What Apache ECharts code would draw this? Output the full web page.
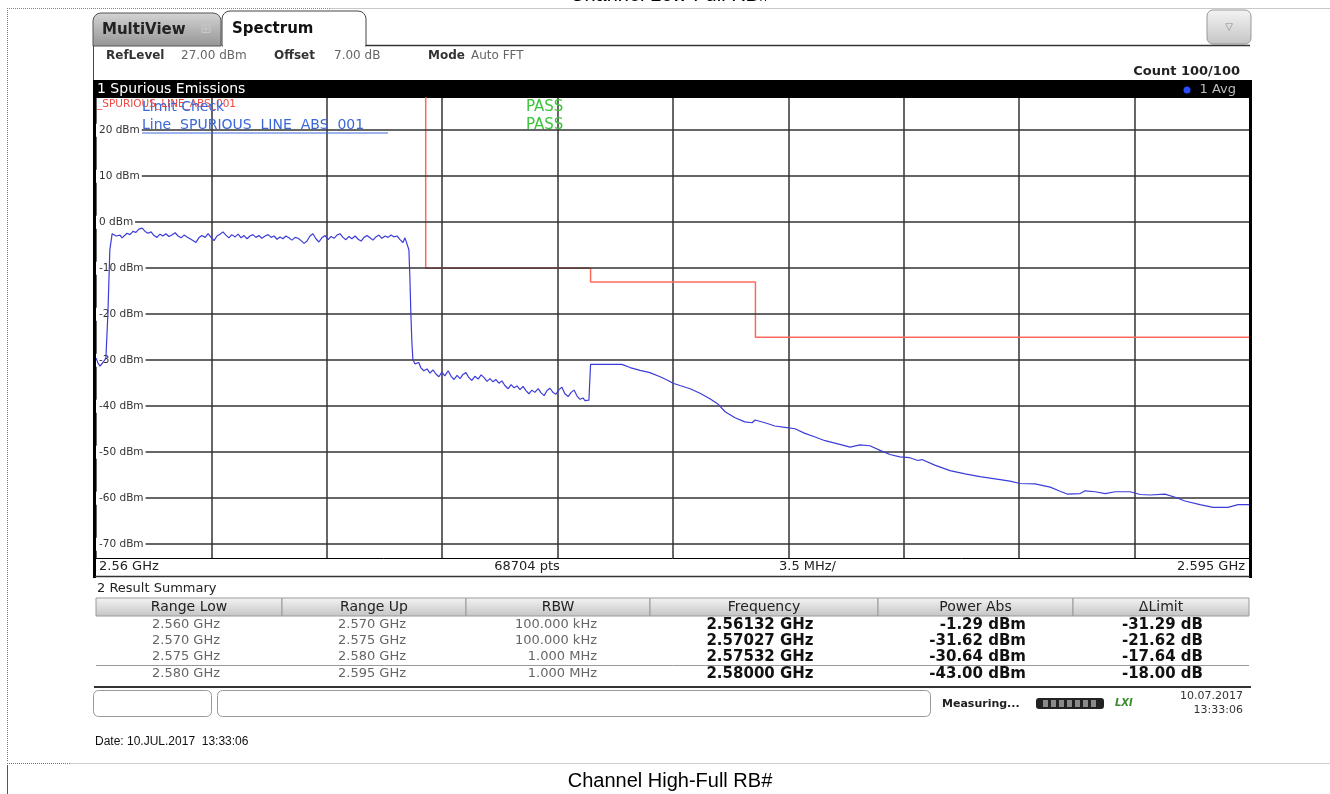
<!DOCTYPE html>
<html>
<head>
<meta charset="utf-8">
<script src="https://cdn.jsdelivr.net/npm/echarts/dist/echarts.min.js"></script>
<style>
  html, body { margin: 0; padding: 0; background: #fff; }
  #main { width: 1330px; height: 794px; }
</style>
</head>
<body>
<div id="main"></div>
<script>
var traceFreq = [
  0.00, 0.06, 0.12, 0.21, 0.30, 0.36, 0.42, 0.49, 0.55, 0.61, 0.67, 0.73,
  0.79, 0.85, 0.94, 1.03, 1.12, 1.21, 1.30, 1.40, 1.49, 1.58, 1.67, 1.76,
  1.85, 1.94, 2.03, 2.12, 2.21, 2.30, 2.40, 2.49, 2.58, 2.67, 2.76, 2.85,
  2.94, 3.03, 3.12, 3.21, 3.31, 3.40, 3.49, 3.58, 3.67, 3.76, 3.85, 3.94,
  4.03, 4.12, 4.22, 4.31, 4.40, 4.49, 4.58, 4.67, 4.76, 4.85, 4.94, 5.03,
  5.13, 5.22, 5.31, 5.40, 5.49, 5.58, 5.67, 5.76, 5.85, 5.94, 6.04, 6.13,
  6.22, 6.31, 6.40, 6.49, 6.58, 6.67, 6.76, 6.85, 6.95, 7.04, 7.13, 7.22,
  7.31, 7.40, 7.49, 7.58, 7.67, 7.76, 7.86, 7.95, 8.04, 8.13, 8.22, 8.31,
  8.40, 8.49, 8.58, 8.67, 8.77, 8.86, 8.95, 9.04, 9.13, 9.22, 9.31, 9.37,
  9.43, 9.49, 9.52, 9.55, 9.58, 9.61, 9.67, 9.73, 9.79, 9.85, 9.94, 10.04,
  10.13, 10.22, 10.31, 10.40, 10.49, 10.58, 10.68, 10.77, 10.86, 10.95, 11.04, 11.13,
  11.22, 11.31, 11.40, 11.49, 11.59, 11.68, 11.77, 11.86, 11.95, 12.04, 12.13, 12.22,
  12.31, 12.40, 12.50, 12.59, 12.68, 12.77, 12.86, 12.95, 13.04, 13.13, 13.22, 13.31,
  13.41, 13.50, 13.59, 13.68, 13.77, 13.86, 13.95, 14.04, 14.13, 14.22, 14.32, 14.41,
  14.50, 14.59, 14.68, 14.77, 14.83, 14.89, 14.95, 15.00, 15.00, 15.95, 16.20, 16.50,
  16.80, 17.11, 17.35, 17.50, 17.71, 18.02, 18.32, 18.62, 18.86, 19.08, 19.38, 19.68,
  19.90, 19.99, 20.29, 20.59, 20.90, 21.20, 21.50, 21.81, 22.11, 22.56, 22.87, 23.17,
  23.47, 23.78, 24.08, 24.38, 24.68, 24.93, 25.05, 25.44, 25.90, 26.36, 26.81, 27.27,
  27.72, 28.03, 28.48, 28.94, 29.24, 29.45, 29.85, 30.00, 30.30, 30.61, 30.91, 31.36,
  31.67, 31.97, 32.42, 32.73, 33.03, 33.48, 33.88, 34.33, 34.64, 35.00
];
var traceLevel = [
  -29.5, -30.6, -31.3, -30.5, -29.6, -20.0, -6.0, -2.5, -2.2, -3.0, -3.3, -2.8,
  -3.4, -3.0, -2.4, -2.7, -2.0, -2.2, -1.5, -1.3, -2.0, -2.4, -2.1, -2.9,
  -3.3, -2.6, -3.0, -2.5, -3.1, -2.8, -2.3, -3.0, -3.4, -2.8, -3.2, -3.6,
  -4.0, -4.4, -3.4, -2.9, -3.3, -2.5, -3.3, -4.0, -3.0, -2.6, -2.1, -2.8,
  -3.4, -2.7, -3.2, -2.6, -3.4, -2.9, -3.6, -3.0, -2.7, -3.3, -2.9, -3.5,
  -3.0, -2.7, -3.3, -3.0, -3.7, -3.2, -3.6, -3.0, -3.4, -3.9, -3.3, -3.5,
  -4.0, -4.6, -4.1, -3.0, -2.5, -3.6, -4.3, -3.4, -2.9, -3.8, -3.1, -3.5,
  -2.8, -2.5, -3.3, -3.8, -3.1, -3.6, -3.0, -3.7, -4.1, -3.3, -2.9, -3.4,
  -3.9, -3.2, -2.8, -3.5, -3.0, -3.3, -2.8, -3.2, -3.0, -3.8, -4.4, -3.4,
  -3.0, -6.0, -12.0, -20.0, -26.0, -29.8, -30.8, -31.2, -30.5, -31.6, -32.3, -31.9,
  -32.8, -32.1, -33.0, -33.6, -32.6, -33.4, -32.3, -33.5, -34.2, -33.3, -34.0, -33.1,
  -32.7, -33.8, -34.4, -33.5, -34.1, -33.2, -33.8, -34.6, -34.0, -34.7, -34.2, -35.0,
  -34.5, -35.5, -36.2, -35.3, -36.0, -35.6, -36.4, -35.7, -36.6, -37.3, -36.5, -37.0,
  -36.2, -37.1, -37.7, -36.6, -36.1, -37.0, -37.4, -36.4, -35.9, -37.3, -37.9, -37.0,
  -36.5, -37.8, -38.5, -38.2, -38.8, -38.4, -38.7, -38.6, -30.9, -30.9, -31.6, -32.2,
  -32.7, -33.6, -34.4, -35.0, -35.5, -36.2, -37.2, -38.4, -39.5, -41.2, -42.5, -43.4,
  -43.6, -43.0, -43.6, -44.3, -44.6, -44.9, -45.9, -46.7, -47.5, -48.3, -48.9, -48.4,
  -48.6, -49.6, -50.5, -51.0, -51.2, -51.8, -51.6, -52.8, -54.0, -54.7, -55.3, -55.8,
  -56.3, -56.8, -56.9, -57.6, -58.5, -59.1, -59.0, -58.4, -58.6, -59.0, -58.6, -58.6,
  -59.2, -59.3, -59.1, -59.8, -60.6, -61.4, -62.0, -62.0, -61.4, -61.4
];

// limit line SPURIOUS_LINE_ABS_001
var limitFreq = [10, 10, 15, 15, 20, 20, 35];
var limitLevel = [30, -10, -10, -13, -13, -25, -25];

var yTicks = [-70, -60, -50, -40, -30, -20, -10, 0, 10, 20];

// result summary table
var tableHead = ['Range Low', 'Range Up', 'RBW', 'Frequency', 'Power Abs', '\u0394Limit'];
var rangeLow = ['2.560 GHz', '2.570 GHz', '2.575 GHz', '2.580 GHz'];
var rangeUp = ['2.570 GHz', '2.575 GHz', '2.580 GHz', '2.595 GHz'];
var rbw = ['100.000 kHz', '100.000 kHz', '1.000 MHz', '1.000 MHz'];
var peakFreq = ['2.56132 GHz', '2.57027 GHz', '2.57532 GHz', '2.58000 GHz'];
var powerAbs = ['-1.29 dBm', '-31.62 dBm', '-30.64 dBm', '-43.00 dBm'];
var deltaLimit = ['-31.29 dB', '-21.62 dB', '-17.64 dB', '-18.00 dB'];

var UI = 'DejaVu Sans, Verdana, sans-serif';

function zip(a, b) {
  var res = [];
  for (var i = 0; i < a.length; i++) res.push([a[i], b[i]]);
  return res;
}

function txt(x, y, s, o) {
  o = o || {};
  return {
    type: 'text', x: x, y: y, z: o.z || 50,
    style: {
      text: s, fill: o.color || '#222', font: o.font || ('12px ' + UI),
      align: o.align || 'left', verticalAlign: o.va || 'middle'
    }
  };
}
function rect(x, y, w, h, o) {
  o = o || {};
  return {
    type: 'rect', z: o.z || 1,
    shape: { x: x, y: y, width: w, height: h, r: o.r || 0 },
    style: { fill: o.fill || 'none', stroke: o.stroke || null, lineWidth: o.lw || 1 }
  };
}
function line(x1, y1, x2, y2, o) {
  o = o || {};
  return {
    type: 'line', z: o.z || 5,
    shape: { x1: x1, y1: y1, x2: x2, y2: y2 },
    style: { stroke: o.color || '#000', lineWidth: o.lw || 1, lineDash: o.dash || null }
  };
}
var greyBtn = {
  type: 'linear', x: 0, y: 0, x2: 0, y2: 1,
  colorStops: [{ offset: 0, color: '#f4f4f4' }, { offset: 1, color: '#c4c4c4' }]
};
var tabGrey = {
  type: 'linear', x: 0, y: 0, x2: 0, y2: 1,
  colorStops: [{ offset: 0, color: '#d4d4d4' }, { offset: 1, color: '#959595' }]
};

var g = [];
// page frame of the document
g.push(txt(670, 5, 'Channel Low-Full RB#', { font: '20px Liberation Sans, Arial', color: '#000', align: 'center', va: 'bottom', z: 0 }));
g.push(line(7.5, 8, 7.5, 762, { color: '#777', dash: [1, 1] }));
g.push(line(7, 8.5, 330, 8.5, { color: '#888', dash: [1, 1] }));
g.push(line(330, 8.5, 1330, 8.5, { color: '#c8c8c8' }));
g.push(line(7, 763.5, 70, 763.5, { color: '#777', dash: [1, 1] }));
g.push(line(70, 763.5, 1330, 763.5, { color: '#d0d0d0' }));
g.push(line(7.5, 765, 7.5, 794, { color: '#555' }));
g.push(txt(670, 781, 'Channel High-Full RB#', { font: '20px Liberation Sans, Arial', color: '#000', align: 'center' }));

// tabs
g.push(rect(93, 13, 128, 33, { fill: tabGrey, stroke: '#555', r: [8, 8, 0, 0] }));
g.push(txt(102, 30, 'MultiView', { font: 'bold 15px ' + UI, color: '#222' }));
g.push(txt(206, 30, '\u229e', { font: '13px ' + UI, color: '#c8c8c8', align: 'center' }));
g.push(rect(222, 11, 144, 35, { fill: '#fff', stroke: '#444', r: [8, 8, 0, 0], z: 2 }));
g.push(rect(223, 40, 142, 8, { fill: '#fff', z: 3 }));
g.push(txt(232, 29, 'Spectrum', { font: 'bold 15px ' + UI, color: '#111' }));
g.push(line(366, 45.5, 1250, 45.5, { color: '#333', lw: 1.5 }));
g.push(line(93.5, 46, 93.5, 80, { color: '#444' }));
g.push(rect(1207, 10, 44, 34, { fill: greyBtn, stroke: '#999', r: 6 }));
g.push(txt(1229, 27, '\u25bd', { font: '10px ' + UI, color: '#888', align: 'center' }));

// setting line
g.push(txt(106, 56, 'RefLevel', { font: 'bold 12px ' + UI, color: '#333' }));
g.push(txt(181, 56, '27.00 dBm', { font: '12px ' + UI, color: '#666' }));
g.push(txt(274, 56, 'Offset', { font: 'bold 12px ' + UI, color: '#333' }));
g.push(txt(334, 56, '7.00 dB', { font: '12px ' + UI, color: '#666' }));
g.push(txt(428, 56, 'Mode', { font: 'bold 12px ' + UI, color: '#333' }));
g.push(txt(471, 56, 'Auto FFT', { font: '12px ' + UI, color: '#666' }));
g.push(txt(1240, 72, 'Count 100/100', { font: 'bold 13px ' + UI, color: '#222', align: 'right' }));

// diagram title bar
g.push(rect(93, 80, 1158, 18, { fill: '#000', z: 3 }));
g.push(txt(97, 89, '1 Spurious Emissions', { font: '14px ' + UI, color: '#fff', z: 60 }));
g.push({ type: 'circle', z: 60, shape: { cx: 1187, cy: 90, r: 3.5 }, style: { fill: '#2a4cff' } });
g.push(txt(1236, 90, '1 Avg', { font: '13px ' + UI, color: '#bbb', align: 'right', z: 60 }));
g.push(line(94.5, 80, 94.5, 578, { color: '#000', lw: 3, z: 20 }));
g.push(line(1250.5, 80, 1250.5, 578, { color: '#000', lw: 3, z: 20 }));

// limit check labels
g.push(txt(97, 104, '_SPURIOUS_LINE_ABS_001', { font: '10.5px ' + UI, color: '#f04a40', z: 60 }));
g.push(txt(142, 107, 'Limit Check', { font: '14px ' + UI, color: '#3a68d8', z: 61 }));
g.push(txt(142, 125, 'Line  SPURIOUS  LINE  ABS  001', { font: '14px ' + UI, color: '#3a68d8', z: 61 }));
g.push(line(142, 133, 388, 133, { color: '#3a68d8', z: 61 }));
g.push(txt(526, 107, 'PASS', { font: '15px ' + UI, color: '#3cc43c', z: 61 }));
g.push(txt(526, 125, 'PASS', { font: '15px ' + UI, color: '#3cc43c', z: 61 }));

// frequency row under diagram
g.push(line(95, 558.5, 1250, 558.5, { color: '#000', z: 20 }));
g.push(line(95, 576.5, 1250, 576.5, { color: '#333', lw: 1.5, z: 20 }));
g.push(txt(99, 567, '2.56 GHz', { font: '13px ' + UI, color: '#222' }));
g.push(txt(527, 567, '68704 pts', { font: '13px ' + UI, color: '#222', align: 'center' }));
g.push(txt(779, 567, '3.5 MHz/', { font: '13px ' + UI, color: '#222' }));
g.push(txt(1245, 567, '2.595 GHz', { font: '13px ' + UI, color: '#222', align: 'right' }));

// result summary
g.push(txt(97, 589, '2 Result Summary', { font: '13px ' + UI, color: '#222' }));
var colEdge = [96, 282, 466, 650, 878, 1073, 1249];
for (var c = 0; c < tableHead.length; c++) {
  g.push(rect(colEdge[c], 598, colEdge[c + 1] - colEdge[c], 18, { fill: greyBtn, stroke: '#9a9a9a' }));
  g.push(txt((colEdge[c] + colEdge[c + 1]) / 2, 607, tableHead[c], { font: '14px ' + UI, color: '#222', align: 'center' }));
}
var rowY = [625, 641, 657, 674];
for (var r = 0; r < rowY.length; r++) {
  var ry = rowY[r];
  g.push(txt(186, ry, rangeLow[r], { font: '13px ' + UI, color: '#666', align: 'center' }));
  g.push(txt(372, ry, rangeUp[r], { font: '13px ' + UI, color: '#666', align: 'center' }));
  g.push(txt(597, ry, rbw[r], { font: '13px ' + UI, color: '#666', align: 'right' }));
  g.push(txt(760, ry, peakFreq[r], { font: 'bold 15px ' + UI, color: '#111', align: 'center' }));
  g.push(txt(1026, ry, powerAbs[r], { font: 'bold 15px ' + UI, color: '#111', align: 'right' }));
  g.push(txt(1203, ry, deltaLimit[r], { font: 'bold 15px ' + UI, color: '#111', align: 'right' }));
}
g.push(line(96, 665.5, 1249, 665.5, { color: '#999' }));
g.push(line(94, 687, 1251, 687, { color: '#333', lw: 2 }));

// status bar
g.push(rect(93.5, 690.5, 118, 26, { fill: '#fff', stroke: '#999', r: 5 }));
g.push(rect(217.5, 690.5, 713, 26, { fill: '#fff', stroke: '#999', r: 5 }));
g.push(txt(942, 704, 'Measuring...', { font: 'bold 11px ' + UI, color: '#222' }));
g.push(rect(1036, 698, 68, 11, { fill: '#222', r: 3 }));
for (var s = 0; s < 7; s++) {
  g.push(rect(1043 + s * 8, 700, 5, 7, { fill: '#8a8a8a', z: 2 }));
}
g.push(txt(1115, 703, 'LXI', { font: 'italic bold 10px ' + UI, color: '#3a8a2a' }));
g.push(txt(1243, 696, '10.07.2017', { font: '11px ' + UI, color: '#333', align: 'right' }));
g.push(txt(1243, 710, '13:33:06', { font: '11px ' + UI, color: '#333', align: 'right' }));

g.push(txt(95, 742, 'Date: 10.JUL.2017  13:33:06', { font: '12px Liberation Sans Narrow, Liberation Sans, Arial', color: '#111' }));

var chart = echarts.init(document.getElementById('main'));
var option = {
  backgroundColor: '#fff',
  animation: false,
  graphic: g,
  grid: { left: 96, top: 98, width: 1154, height: 460, show: true, backgroundColor: '#fff', borderWidth: 0 },
  xAxis: {
    type: 'value', min: 0, max: 35, interval: 3.5,
    axisLine: { show: false }, axisTick: { show: false }, axisLabel: { show: false },
    splitLine: { show: true, lineStyle: { color: '#333', width: 1.5 } }
  },
  yAxis: {
    type: 'value', min: -73, max: 27,
    axisLine: { show: false },
    axisTick: { show: false, customValues: yTicks },
    axisLabel: {
      customValues: yTicks, inside: true, margin: 0,
      formatter: function (v) { return v + ' dBm'; },
      color: '#333', fontSize: 10.5, fontFamily: UI,
      backgroundColor: '#fff', padding: [1, 2, 1, 3]
    },
    splitLine: { show: true, lineStyle: { color: '#333', width: 1.5 } },
    z: 4
  },
  series: [
    {
      name: 'Limit', type: 'line', data: zip(limitFreq, limitLevel),
      symbol: 'none', clip: true,
      lineStyle: { color: '#ff6a5c', width: 1.5 }, z: 3
    },
    {
      name: 'Trace 1', type: 'line', data: zip(traceFreq, traceLevel),
      symbol: 'none', clip: true,
      lineStyle: { color: '#3c3cd8', width: 1.2 }, z: 5
    }
  ]
};
chart.setOption(option);
</script>
</body>
</html>
